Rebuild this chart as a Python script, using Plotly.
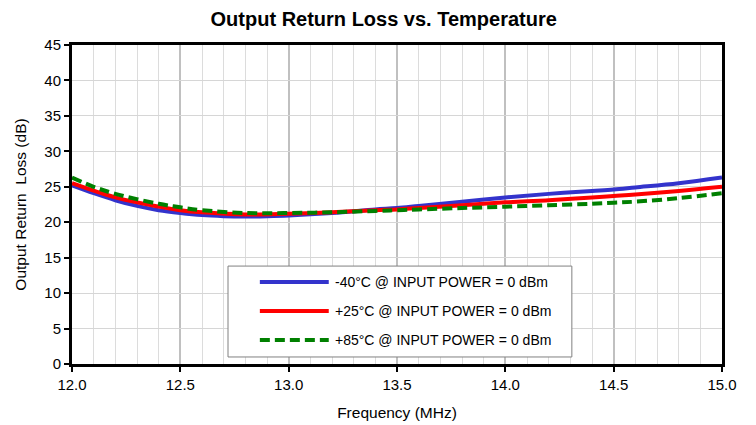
import plotly.graph_objects as go

freq_blue = [12.0, 12.1, 12.2, 12.3, 12.4, 12.5, 12.6, 12.7, 12.8, 12.9, 13.0, 13.2, 13.4, 13.5, 13.6, 13.8, 14.0, 14.2, 14.4, 14.5, 14.6, 14.8, 15.0]
rl_m40 = [25.2, 24.1, 23.1, 22.3, 21.7, 21.3, 21.0, 20.85, 20.8, 20.85, 20.95, 21.3, 21.8, 22.0, 22.3, 22.9, 23.5, 24.0, 24.4, 24.6, 24.9, 25.5, 26.3]

freq_red = [12.0, 12.2, 12.4, 12.5, 12.6, 12.8, 13.0, 13.2, 13.4, 13.5, 13.6, 13.8, 14.0, 14.2, 14.4, 14.5, 14.6, 14.8, 15.0]
rl_p25 = [25.5, 23.5, 22.2, 21.7, 21.4, 21.1, 21.2, 21.4, 21.7, 21.8, 22.0, 22.4, 22.8, 23.1, 23.5, 23.7, 23.9, 24.4, 25.0]

freq_green = [12.0, 12.1, 12.2, 12.4, 12.5, 12.6, 12.8, 13.0, 13.2, 13.4, 13.5, 13.6, 13.8, 14.0, 14.2, 14.4, 14.5, 14.6, 14.8, 15.0]
rl_p85 = [26.3, 25.0, 24.0, 22.6, 22.1, 21.7, 21.3, 21.3, 21.4, 21.6, 21.7, 21.8, 22.0, 22.2, 22.4, 22.6, 22.75, 22.9, 23.4, 24.1]

names = ["-40°C @ INPUT POWER = 0 dBm", "+25°C @ INPUT POWER = 0 dBm", "+85°C @ INPUT POWER = 0 dBm"]
colors = ["#3333cc", "#ff0000", "#008000"]
dashes = ["solid", "solid", "10px,5px"]

FONT = "Arial, Liberation Sans, sans-serif"

fig = go.Figure()
for xs, ys, nm, c, d in [(freq_blue, rl_m40, names[0], colors[0], dashes[0]),
                         (freq_red, rl_p25, names[1], colors[1], dashes[1]),
                         (freq_green, rl_p85, names[2], colors[2], dashes[2])]:
    fig.add_trace(go.Scatter(x=xs, y=ys, mode="lines", name=nm, showlegend=False,
                             line=dict(color=c, width=4, shape="spline", dash=d)))

# Manual legend (box, sample lines, labels) in paper coordinates
shapes = [dict(type="rect", xref="paper", yref="paper", x0=0.24, x1=0.769, y0=0.022, y1=0.307,
               line=dict(color="#808080", width=1), fillcolor="white", layer="above")]
annotations = []
row_y = [0.257, 0.166, 0.075]
for ry, nm, c, d in zip(row_y, names, colors, dashes):
    shapes.append(dict(type="line", xref="paper", yref="paper", x0=0.289, x1=0.395, y0=ry, y1=ry,
                       line=dict(color=c, width=4, dash=d), layer="above"))
    annotations.append(dict(xref="paper", yref="paper", x=0.4015, y=ry, xanchor="left", yanchor="middle",
                            text=nm, showarrow=False, font=dict(size=14, family=FONT, color="black")))

fig.update_layout(
    width=756, height=425,
    margin=dict(l=64, r=42, t=37, b=69),
    paper_bgcolor="white", plot_bgcolor="white",
    font=dict(family=FONT, size=15, color="black"),
    title=dict(text="<b>Output Return Loss vs. Temperature</b>", x=0.497, xanchor="center",
               y=0.974, yanchor="middle", font=dict(size=20, family=FONT)),
    shapes=shapes, annotations=annotations,
    showlegend=False,
)
fig.update_xaxes(range=[12.0, 15.0], dtick=0.5, tick0=12.0, tickformat=".1f",
                 showline=True, linecolor="black", linewidth=3, mirror=True,
                 ticks="outside", ticklen=5, tickwidth=2, tickcolor="black",
                 showgrid=True, gridcolor="#c0c0c0", gridwidth=2,
                 minor=dict(dtick=0.1, showgrid=True, gridcolor="#dcdcdc", gridwidth=1),
                 zeroline=False,
                 title=dict(text="Frequency (MHz)", font=dict(size=15.5), standoff=16),
                 tickfont=dict(size=15))
fig.update_yaxes(range=[0, 45], dtick=5, tick0=0,
                 showline=True, linecolor="black", linewidth=3, mirror=True,
                 ticks="outside", ticklen=5, tickwidth=2, tickcolor="black",
                 showgrid=True, gridcolor="#d6d6d6", gridwidth=1,
                 zeroline=False,
                 title=dict(text="Output Return\u00a0 Loss (dB)", font=dict(size=15.5), standoff=14),
                 tickfont=dict(size=15))

fig.write_html("out.html")
